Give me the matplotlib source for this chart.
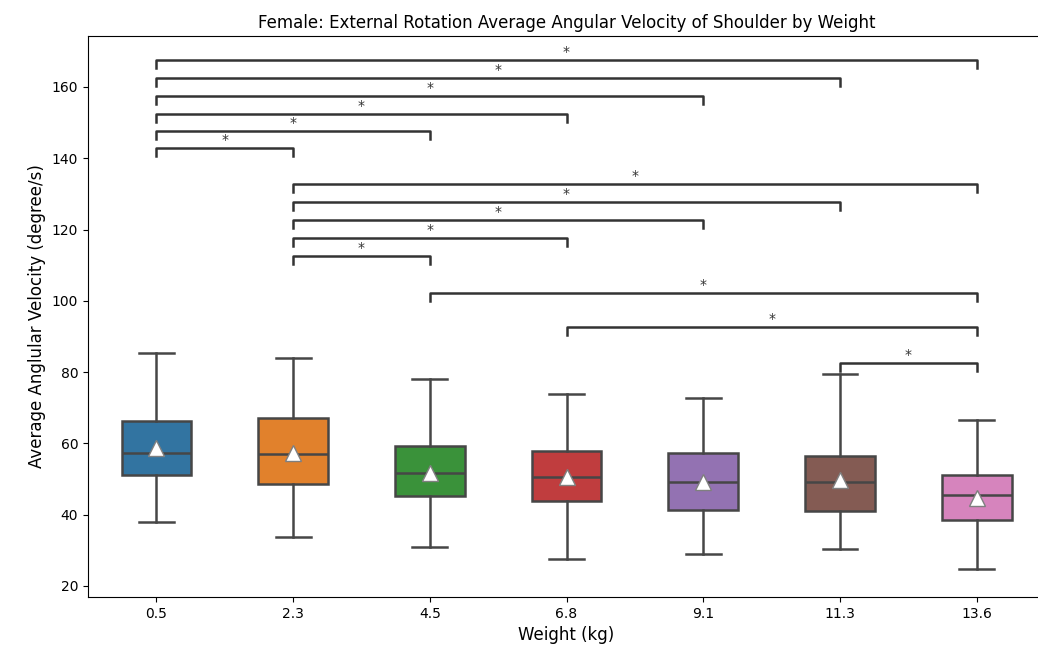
import matplotlib
matplotlib.use("Agg")
from matplotlib import pyplot as plt

weights = ["0.5", "2.3", "4.5", "6.8", "9.1", "11.3", "13.6"]
whisker_low = [38.0, 33.7, 30.9, 27.5, 29.0, 30.4, 24.7]
q1 = [51.1, 48.6, 45.3, 43.8, 41.3, 40.9, 38.4]
medians = [57.4, 56.9, 51.6, 50.7, 49.2, 49.2, 45.4]
q3 = [66.3, 67.1, 59.4, 58.0, 57.3, 56.4, 51.1]
whisker_high = [85.4, 83.9, 78.1, 73.8, 72.7, 79.6, 66.6]
means = [58.6, 57.4, 51.8, 50.6, 49.1, 49.6, 44.7]

colors = ["#3274a1", "#e1812c", "#3a923a", "#c03d3e", "#9372b2", "#845b53", "#d684bd"]

# significant pairs (index a, index b) and bracket heights
pairs = [(0, 6), (0, 5), (0, 4), (0, 3), (0, 2), (0, 1),
         (1, 6), (1, 5), (1, 4), (1, 3), (1, 2),
         (2, 6), (3, 6), (5, 6)]
pair_heights = [167.6, 162.5, 157.5, 152.4, 147.7, 142.9,
                132.8, 127.7, 122.7, 117.6, 112.6,
                102.2, 92.7, 82.6]

fig = plt.figure(figsize=(10.38, 6.58), dpi=100)
ax = fig.add_axes([0.0848, 0.0927, 0.922, 0.8526])

stats = []
for i in range(len(weights)):
    stats.append({"whislo": whisker_low[i], "q1": q1[i], "med": medians[i],
                  "q3": q3[i], "whishi": whisker_high[i], "mean": means[i],
                  "fliers": []})

gray = "#464646"
lw = 1.8
bp = ax.bxp(stats, positions=range(len(weights)), widths=0.51, patch_artist=True,
            showmeans=True, showfliers=False,
            boxprops=dict(edgecolor=gray, linewidth=lw),
            medianprops=dict(color=gray, linewidth=lw),
            whiskerprops=dict(color=gray, linewidth=lw),
            capprops=dict(color=gray, linewidth=lw),
            meanprops=dict(marker="^", markerfacecolor="white", markeredgecolor="#7f7f7f",
                           markersize=11))
for patch, c in zip(bp["boxes"], colors):
    patch.set_facecolor(c)

h = 2.3
for (a, b), y in zip(pairs, pair_heights):
    ax.plot([a, a, b, b], [y - h, y, y, y - h], lw=1.8, c="0.2")
    ax.text((a + b) / 2, y + 0.2, "*", ha="center", va="bottom", fontsize=10, color="0.2")

ax.set_xlim(-0.5, 6.5)
ax.set_ylim(16.9, 174.3)
ax.set_yticks([20, 40, 60, 80, 100, 120, 140, 160])
ax.set_xticks(range(len(weights)))
ax.set_xticklabels(weights)
ax.tick_params(labelsize=10)
ax.set_xlabel("Weight (kg)", fontsize=12)
ax.set_ylabel("Average Anglular Velocity (degree/s)", fontsize=12)
ax.set_title("Female: External Rotation Average Angular Velocity of Shoulder by Weight", fontsize=12)

fig.savefig("out.png", dpi=100)
